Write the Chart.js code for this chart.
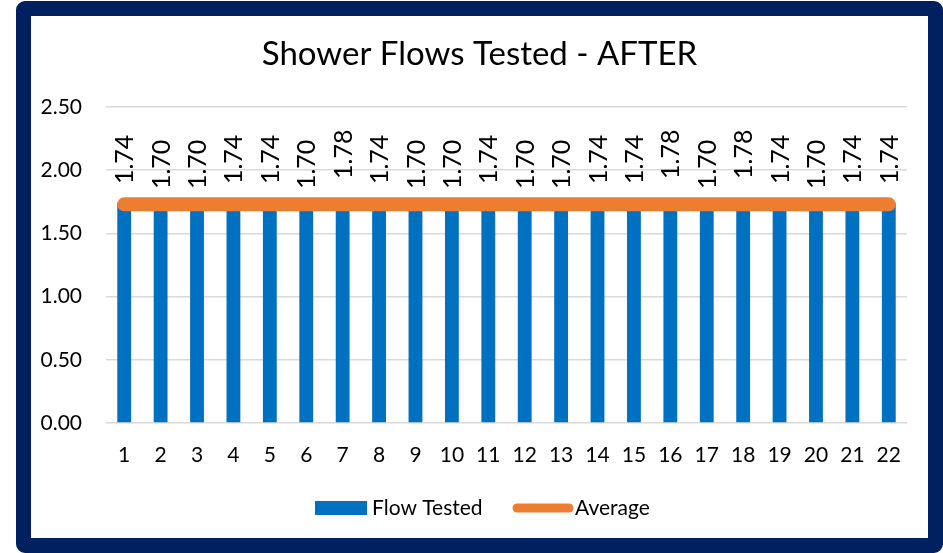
<!DOCTYPE html>
<html>
<head>
<meta charset="utf-8">
<script src="https://cdn.jsdelivr.net/npm/chart.js@4.4.1/dist/chart.umd.min.js"></script>
<style>
    html, body { margin: 0; padding: 0; background: #ffffff; }
    #frame {
        position: absolute;
        left: 16px;
        top: 1px;
        width: 897px;
        height: 522px;
        border: 15px solid #002060;
        border-radius: 9px;
        background: #ffffff;
    }
    #wrap { position: absolute; left: 0; top: 0; width: 897px; height: 522px; }
</style>
</head>
<body>
<div id="frame">
    <div id="wrap"><canvas id="flowChart" width="897" height="522"></canvas></div>
</div>
<script>
const categories = ['1', '2', '3', '4', '5', '6', '7', '8', '9', '10', '11',
    '12', '13', '14', '15', '16', '17', '18', '19', '20', '21', '22'];
const flowTested = [1.74, 1.70, 1.70, 1.74, 1.74, 1.70, 1.78, 1.74, 1.70, 1.70, 1.74,
    1.70, 1.70, 1.74, 1.74, 1.78, 1.70, 1.78, 1.74, 1.70, 1.74, 1.74];
const average = [1.73, 1.73, 1.73, 1.73, 1.73, 1.73, 1.73, 1.73, 1.73, 1.73, 1.73,
    1.73, 1.73, 1.73, 1.73, 1.73, 1.73, 1.73, 1.73, 1.73, 1.73, 1.73];
const yTicks = [0, 0.5, 1.0, 1.5, 2.0, 2.5];
const chartTitle = 'Shower Flows Tested - AFTER';

const FONT = 'Lato, "Noto Sans", sans-serif';
const BLUE = '#0070C0';
const ORANGE = '#ED7D31';

// Título centrado en todo el lienzo
const centeredTitle = {
    id: 'centeredTitle',
    afterDraw(chart) {
        const ctx = chart.ctx;
        ctx.save();
        ctx.fillStyle = '#000000';
        ctx.font = '33px ' + FONT;
        ctx.textAlign = 'center';
        ctx.textBaseline = 'middle';
        ctx.fillText(chartTitle, chart.width / 2, 38);
        ctx.restore();
    }
};

// Etiquetas de valor giradas sobre las barras
const valueLabels = {
    id: 'valueLabels',
    afterDatasetsDraw(chart) {
        const ctx = chart.ctx;
        const meta = chart.getDatasetMeta(0);
        ctx.save();
        ctx.fillStyle = '#000000';
        ctx.font = '25px ' + FONT;
        ctx.textAlign = 'left';
        ctx.textBaseline = 'middle';
        meta.data.forEach(function(bar, i) {
            ctx.save();
            ctx.translate(bar.x, bar.y - 19);
            ctx.rotate(-Math.PI / 2);
            ctx.fillText(flowTested[i].toFixed(2), 0, 1);
            ctx.restore();
        });
        ctx.restore();
    }
};

// Leyenda dibujada a mano
const customLegend = {
    id: 'customLegend',
    afterDraw(chart) {
        const ctx = chart.ctx;
        const y = 492;
        ctx.save();
        ctx.font = '21px ' + FONT;
        ctx.textBaseline = 'middle';
        ctx.textAlign = 'left';
        ctx.fillStyle = BLUE;
        ctx.fillRect(284, y - 7, 52, 14);
        ctx.fillStyle = '#000000';
        ctx.fillText(chart.data.datasets[0].label, 341, y);
        ctx.strokeStyle = ORANGE;
        ctx.lineWidth = 9;
        ctx.lineCap = 'round';
        ctx.beginPath();
        ctx.moveTo(486, y);
        ctx.lineTo(538, y);
        ctx.stroke();
        ctx.fillText(chart.data.datasets[1].label, 544, y);
        ctx.restore();
    }
};

new Chart(document.getElementById('flowChart').getContext('2d'), {
    type: 'bar',
    data: {
        labels: categories,
        datasets: [{
            type: 'bar',
            label: 'Flow Tested',
            data: flowTested,
            backgroundColor: BLUE,
            barPercentage: 0.38,
            categoryPercentage: 1.0,
            order: 1
        }, {
            type: 'line',
            label: 'Average',
            data: average,
            borderColor: ORANGE,
            borderWidth: 14,
            borderCapStyle: 'round',
            pointRadius: 0,
            pointHoverRadius: 0,
            fill: false,
            order: 0
        }]
    },
    options: {
        responsive: false,
        animation: false,
        events: [],
        layout: { padding: { left: 0, right: 21, top: 91, bottom: 0 } },
        plugins: {
            legend: { display: false },
            tooltip: { enabled: false },
            title: { display: false }
        },
        scales: {
            x: {
                offset: true,
                grid: { display: false, drawTicks: false },
                border: { display: false },
                ticks: {
                    color: '#000000',
                    font: { family: FONT, size: 21 },
                    padding: 20,
                    maxRotation: 0,
                    autoSkip: false
                },
                afterFit: function(scale) { scale.height = 115; }
            },
            y: {
                min: 0,
                max: 2.5,
                afterBuildTicks: function(scale) {
                    scale.ticks = yTicks.map(function(v) { return { value: v }; });
                },
                grid: { color: '#D9D9D9', lineWidth: 1.5, drawTicks: false },
                border: { display: false },
                ticks: {
                    color: '#000000',
                    font: { family: FONT, size: 21 },
                    padding: 24,
                    callback: function(value) { return Number(value).toFixed(2); }
                },
                afterFit: function(scale) { scale.width = 75; }
            }
        }
    },
    plugins: [centeredTitle, valueLabels, customLegend]
});
</script>
</body>
</html>
